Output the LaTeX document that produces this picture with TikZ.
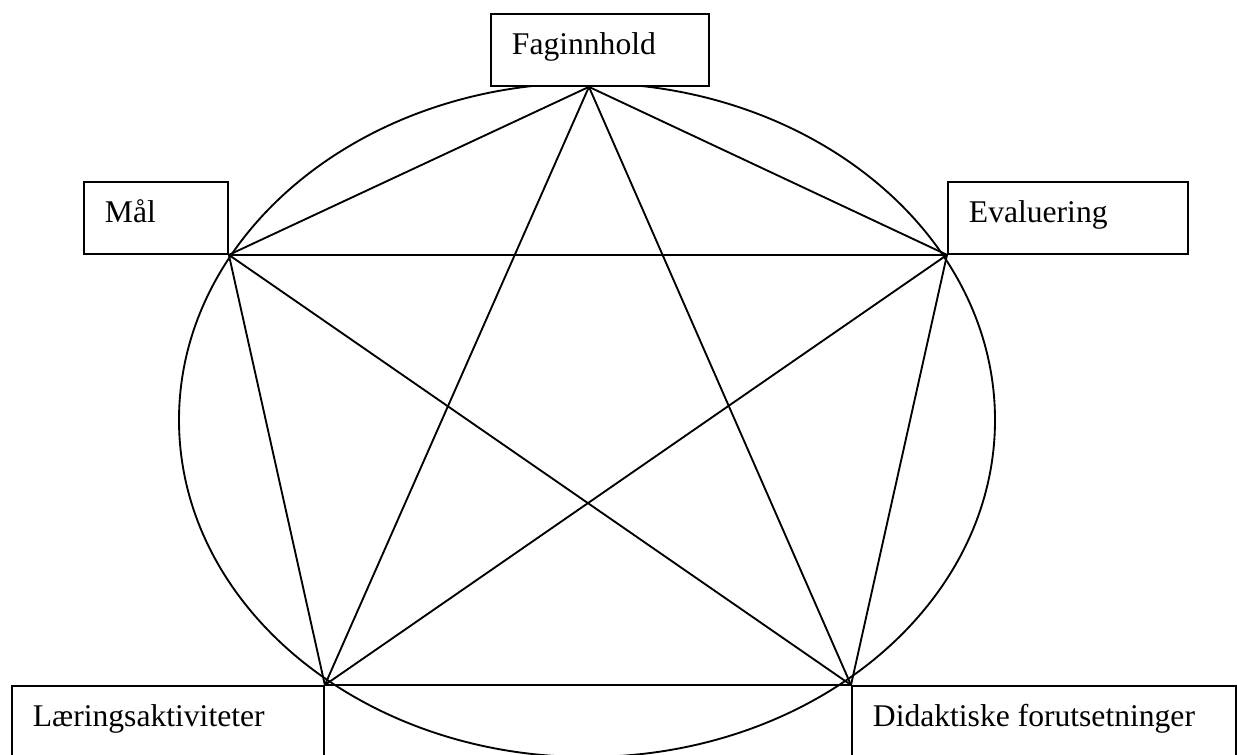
\documentclass[tikz,border=0pt]{standalone}
\usepackage{fontspec}
\setmainfont{Liberation Serif}
\usetikzlibrary{calc}

\begin{document}
\begin{tikzpicture}[%
    x=0.75pt, y=-0.75pt,        % one unit = one pixel of the sketch
    line width=1.4pt,
    ]
% -------------------------------------------------
% Box and line styles
\tikzset{
  box/.style={draw, fill=white, anchor=north west, align=flush left,
    inner xsep=15.75pt, inner ysep=0pt,
    text height=30.4pt, text depth=23.6pt, text width=#1,
    font=\fontsize{23.7}{28}\selectfont},
  norm/.style={-}
}
\useasboundingbox (0,0) rectangle (1237,754);
% -------------------------------------------------
% The circle behind the star
\draw (587,420) ellipse [x radius=408, y radius=337];

% Place the boxes
\node [box=132pt]   (fag)  at (490,13)  {Faginnhold};
\node [box=76.5pt]  (mal)  at (83,181)  {Mål};
\node [box=148.5pt] (eval) at (947,181) {Evaluering};
\node [box=202.5pt] (laer) at (11,685)  {Læringsaktiviteter};
\node [box=256.5pt] (did)  at (851,685) {Didaktiske forutsetninger};

% Corner points of the star
\coordinate (pf) at ($(fag.south)+(-11,0)$);
\coordinate (pm) at (mal.south east);
\coordinate (pe) at (eval.south west);
\coordinate (pl) at (laer.north east);
\coordinate (pd) at (did.north west);

% Outer ring
\draw [norm] (pf) -- (pm) -- (pl) -- (pd) -- (pe) -- cycle;
% Inner star
\draw [norm] (pf) -- (pl);
\draw [norm] (pf) -- (pd);
\draw [norm] (pm) -- (pe);
\draw [norm] (pm) -- (pd);
\draw [norm] (pe) -- (pl);

\end{tikzpicture}
\end{document}
